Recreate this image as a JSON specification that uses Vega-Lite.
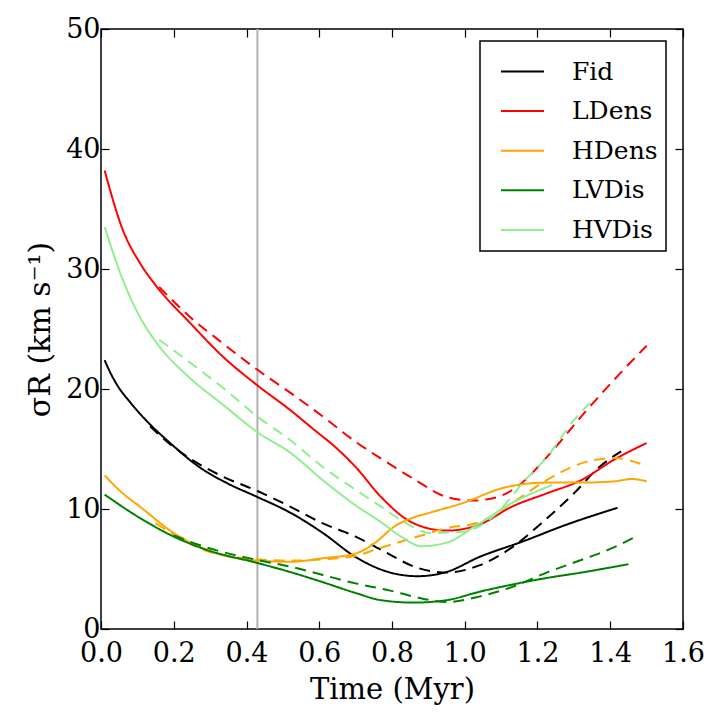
{
  "$schema": "https://vega.github.io/schema/vega-lite/v6.json",
  "width": 582,
  "height": 600,
  "autosize": {"type": "none"},
  "padding": {"left": 101, "top": 29, "right": 36, "bottom": 99},
  "background": "white",
  "config": {
    "view": {"stroke": "black", "strokeWidth": 1.5},
    "font": "DejaVu Serif",
    "axis": {
      "domain": false,
      "grid": false,
      "tickSize": -8,
      "tickColor": "black",
      "tickWidth": 1.2,
      "labelFlush": false,
      "labelOverlap": false,
      "labelFont": "DejaVu Serif",
      "labelFontSize": 27,
      "labelColor": "black",
      "titleFont": "DejaVu Serif",
      "titleFontSize": 29,
      "titleFontWeight": "normal",
      "titleColor": "black"
    },
    "legend": {
      "orient": "none",
      "legendX": 379,
      "legendY": 12,
      "strokeColor": "black",
      "strokeWidth": 1.5,
      "fillColor": "white",
      "padding": 8,
      "symbolType": "stroke",
      "symbolSize": 1849,
      "symbolStrokeWidth": 2,
      "symbolOffset": 12,
      "labelFont": "DejaVu Serif",
      "labelFontSize": 25,
      "labelColor": "black",
      "labelOffset": 27,
      "rowPadding": 3.6,
      "titleFontSize": 0
    }
  },
  "datasets": {
    "curves": [
      {"run": "Fid", "kind": "solid", "t": 0.01, "v": 22.4},
      {"run": "Fid", "kind": "solid", "t": 0.025, "v": 21.4},
      {"run": "Fid", "kind": "solid", "t": 0.045, "v": 20.3},
      {"run": "Fid", "kind": "solid", "t": 0.08, "v": 18.9},
      {"run": "Fid", "kind": "solid", "t": 0.13, "v": 17.2},
      {"run": "Fid", "kind": "solid", "t": 0.19, "v": 15.5},
      {"run": "Fid", "kind": "solid", "t": 0.27, "v": 13.5},
      {"run": "Fid", "kind": "solid", "t": 0.35, "v": 12.1},
      {"run": "Fid", "kind": "solid", "t": 0.43, "v": 11.0},
      {"run": "Fid", "kind": "solid", "t": 0.52, "v": 9.7},
      {"run": "Fid", "kind": "solid", "t": 0.61, "v": 8.0},
      {"run": "Fid", "kind": "solid", "t": 0.70, "v": 6.0},
      {"run": "Fid", "kind": "solid", "t": 0.79, "v": 4.75},
      {"run": "Fid", "kind": "solid", "t": 0.87, "v": 4.4},
      {"run": "Fid", "kind": "solid", "t": 0.95, "v": 4.75},
      {"run": "Fid", "kind": "solid", "t": 1.04, "v": 6.0},
      {"run": "Fid", "kind": "solid", "t": 1.16, "v": 7.3},
      {"run": "Fid", "kind": "solid", "t": 1.28, "v": 8.7},
      {"run": "Fid", "kind": "solid", "t": 1.42, "v": 10.1},

      {"run": "Fid", "kind": "dashed", "t": 0.135, "v": 16.9},
      {"run": "Fid", "kind": "dashed", "t": 0.19, "v": 15.4},
      {"run": "Fid", "kind": "dashed", "t": 0.25, "v": 14.1},
      {"run": "Fid", "kind": "dashed", "t": 0.335, "v": 12.7},
      {"run": "Fid", "kind": "dashed", "t": 0.43, "v": 11.5},
      {"run": "Fid", "kind": "dashed", "t": 0.52, "v": 10.2},
      {"run": "Fid", "kind": "dashed", "t": 0.61, "v": 8.8},
      {"run": "Fid", "kind": "dashed", "t": 0.70, "v": 7.7},
      {"run": "Fid", "kind": "dashed", "t": 0.77, "v": 6.6},
      {"run": "Fid", "kind": "dashed", "t": 0.87, "v": 5.1},
      {"run": "Fid", "kind": "dashed", "t": 0.95, "v": 4.7},
      {"run": "Fid", "kind": "dashed", "t": 1.04, "v": 5.3},
      {"run": "Fid", "kind": "dashed", "t": 1.13, "v": 6.8},
      {"run": "Fid", "kind": "dashed", "t": 1.21, "v": 8.8},
      {"run": "Fid", "kind": "dashed", "t": 1.30, "v": 11.3},
      {"run": "Fid", "kind": "dashed", "t": 1.37, "v": 13.5},
      {"run": "Fid", "kind": "dashed", "t": 1.43, "v": 14.8},

      {"run": "LDens", "kind": "solid", "t": 0.01, "v": 38.2},
      {"run": "LDens", "kind": "solid", "t": 0.06, "v": 33.25},
      {"run": "LDens", "kind": "solid", "t": 0.107, "v": 30.5},
      {"run": "LDens", "kind": "solid", "t": 0.154, "v": 28.5},
      {"run": "LDens", "kind": "solid", "t": 0.245, "v": 25.5},
      {"run": "LDens", "kind": "solid", "t": 0.335, "v": 22.7},
      {"run": "LDens", "kind": "solid", "t": 0.43, "v": 20.3},
      {"run": "LDens", "kind": "solid", "t": 0.52, "v": 18.25},
      {"run": "LDens", "kind": "solid", "t": 0.58, "v": 16.75},
      {"run": "LDens", "kind": "solid", "t": 0.65, "v": 15.0},
      {"run": "LDens", "kind": "solid", "t": 0.70, "v": 13.5},
      {"run": "LDens", "kind": "solid", "t": 0.77, "v": 11.0},
      {"run": "LDens", "kind": "solid", "t": 0.86, "v": 8.8},
      {"run": "LDens", "kind": "solid", "t": 0.95, "v": 8.2},
      {"run": "LDens", "kind": "solid", "t": 1.04, "v": 8.7},
      {"run": "LDens", "kind": "solid", "t": 1.13, "v": 10.2},
      {"run": "LDens", "kind": "solid", "t": 1.225, "v": 11.3},
      {"run": "LDens", "kind": "solid", "t": 1.32, "v": 12.4},
      {"run": "LDens", "kind": "solid", "t": 1.41, "v": 14.1},
      {"run": "LDens", "kind": "solid", "t": 1.50, "v": 15.5},

      {"run": "LDens", "kind": "dashed", "t": 0.16, "v": 28.5},
      {"run": "LDens", "kind": "dashed", "t": 0.245, "v": 26.0},
      {"run": "LDens", "kind": "dashed", "t": 0.335, "v": 23.8},
      {"run": "LDens", "kind": "dashed", "t": 0.43, "v": 21.6},
      {"run": "LDens", "kind": "dashed", "t": 0.52, "v": 19.7},
      {"run": "LDens", "kind": "dashed", "t": 0.61, "v": 17.7},
      {"run": "LDens", "kind": "dashed", "t": 0.70, "v": 15.6},
      {"run": "LDens", "kind": "dashed", "t": 0.77, "v": 14.2},
      {"run": "LDens", "kind": "dashed", "t": 0.86, "v": 12.5},
      {"run": "LDens", "kind": "dashed", "t": 0.95, "v": 11.0},
      {"run": "LDens", "kind": "dashed", "t": 1.02, "v": 10.7},
      {"run": "LDens", "kind": "dashed", "t": 1.09, "v": 11.0},
      {"run": "LDens", "kind": "dashed", "t": 1.15, "v": 12.0},
      {"run": "LDens", "kind": "dashed", "t": 1.225, "v": 14.3},
      {"run": "LDens", "kind": "dashed", "t": 1.32, "v": 17.7},
      {"run": "LDens", "kind": "dashed", "t": 1.41, "v": 20.75},
      {"run": "LDens", "kind": "dashed", "t": 1.50, "v": 23.6},

      {"run": "HDens", "kind": "solid", "t": 0.01, "v": 12.8},
      {"run": "HDens", "kind": "solid", "t": 0.06, "v": 11.3},
      {"run": "HDens", "kind": "solid", "t": 0.107, "v": 10.2},
      {"run": "HDens", "kind": "solid", "t": 0.2, "v": 8.0},
      {"run": "HDens", "kind": "solid", "t": 0.29, "v": 6.6},
      {"run": "HDens", "kind": "solid", "t": 0.43, "v": 5.7},
      {"run": "HDens", "kind": "solid", "t": 0.52, "v": 5.6},
      {"run": "HDens", "kind": "solid", "t": 0.61, "v": 5.9},
      {"run": "HDens", "kind": "solid", "t": 0.70, "v": 6.3},
      {"run": "HDens", "kind": "solid", "t": 0.74, "v": 6.9},
      {"run": "HDens", "kind": "solid", "t": 0.77, "v": 7.6},
      {"run": "HDens", "kind": "solid", "t": 0.80, "v": 8.4},
      {"run": "HDens", "kind": "solid", "t": 0.86, "v": 9.3},
      {"run": "HDens", "kind": "solid", "t": 0.905, "v": 9.7},
      {"run": "HDens", "kind": "solid", "t": 0.995, "v": 10.5},
      {"run": "HDens", "kind": "solid", "t": 1.105, "v": 11.75},
      {"run": "HDens", "kind": "solid", "t": 1.225, "v": 12.2},
      {"run": "HDens", "kind": "solid", "t": 1.32, "v": 12.2},
      {"run": "HDens", "kind": "solid", "t": 1.41, "v": 12.3},
      {"run": "HDens", "kind": "solid", "t": 1.46, "v": 12.5},
      {"run": "HDens", "kind": "solid", "t": 1.50, "v": 12.3},

      {"run": "HDens", "kind": "dashed", "t": 0.15, "v": 8.8},
      {"run": "HDens", "kind": "dashed", "t": 0.2, "v": 7.9},
      {"run": "HDens", "kind": "dashed", "t": 0.29, "v": 6.5},
      {"run": "HDens", "kind": "dashed", "t": 0.43, "v": 5.8},
      {"run": "HDens", "kind": "dashed", "t": 0.52, "v": 5.7},
      {"run": "HDens", "kind": "dashed", "t": 0.61, "v": 5.8},
      {"run": "HDens", "kind": "dashed", "t": 0.70, "v": 6.1},
      {"run": "HDens", "kind": "dashed", "t": 0.767, "v": 6.75},
      {"run": "HDens", "kind": "dashed", "t": 0.86, "v": 7.6},
      {"run": "HDens", "kind": "dashed", "t": 0.95, "v": 8.4},
      {"run": "HDens", "kind": "dashed", "t": 1.04, "v": 8.9},
      {"run": "HDens", "kind": "dashed", "t": 1.13, "v": 10.5},
      {"run": "HDens", "kind": "dashed", "t": 1.225, "v": 12.4},
      {"run": "HDens", "kind": "dashed", "t": 1.32, "v": 13.8},
      {"run": "HDens", "kind": "dashed", "t": 1.41, "v": 14.25},
      {"run": "HDens", "kind": "dashed", "t": 1.49, "v": 13.7},

      {"run": "LVDis", "kind": "solid", "t": 0.01, "v": 11.2},
      {"run": "LVDis", "kind": "solid", "t": 0.107, "v": 9.25},
      {"run": "LVDis", "kind": "solid", "t": 0.2, "v": 7.7},
      {"run": "LVDis", "kind": "solid", "t": 0.29, "v": 6.6},
      {"run": "LVDis", "kind": "solid", "t": 0.43, "v": 5.5},
      {"run": "LVDis", "kind": "solid", "t": 0.52, "v": 4.75},
      {"run": "LVDis", "kind": "solid", "t": 0.61, "v": 3.9},
      {"run": "LVDis", "kind": "solid", "t": 0.70, "v": 3.0},
      {"run": "LVDis", "kind": "solid", "t": 0.77, "v": 2.4},
      {"run": "LVDis", "kind": "solid", "t": 0.86, "v": 2.2},
      {"run": "LVDis", "kind": "solid", "t": 0.95, "v": 2.4},
      {"run": "LVDis", "kind": "solid", "t": 1.04, "v": 3.1},
      {"run": "LVDis", "kind": "solid", "t": 1.13, "v": 3.7},
      {"run": "LVDis", "kind": "solid", "t": 1.225, "v": 4.25},
      {"run": "LVDis", "kind": "solid", "t": 1.32, "v": 4.7},
      {"run": "LVDis", "kind": "solid", "t": 1.45, "v": 5.4},

      {"run": "LVDis", "kind": "dashed", "t": 0.2, "v": 7.8},
      {"run": "LVDis", "kind": "dashed", "t": 0.29, "v": 6.8},
      {"run": "LVDis", "kind": "dashed", "t": 0.43, "v": 5.75},
      {"run": "LVDis", "kind": "dashed", "t": 0.52, "v": 5.2},
      {"run": "LVDis", "kind": "dashed", "t": 0.61, "v": 4.5},
      {"run": "LVDis", "kind": "dashed", "t": 0.70, "v": 3.8},
      {"run": "LVDis", "kind": "dashed", "t": 0.795, "v": 3.2},
      {"run": "LVDis", "kind": "dashed", "t": 0.86, "v": 2.7},
      {"run": "LVDis", "kind": "dashed", "t": 0.95, "v": 2.25},
      {"run": "LVDis", "kind": "dashed", "t": 1.04, "v": 2.7},
      {"run": "LVDis", "kind": "dashed", "t": 1.13, "v": 3.5},
      {"run": "LVDis", "kind": "dashed", "t": 1.225, "v": 4.7},
      {"run": "LVDis", "kind": "dashed", "t": 1.32, "v": 5.75},
      {"run": "LVDis", "kind": "dashed", "t": 1.41, "v": 6.8},
      {"run": "LVDis", "kind": "dashed", "t": 1.47, "v": 7.7},

      {"run": "HVDis", "kind": "solid", "t": 0.01, "v": 33.5},
      {"run": "HVDis", "kind": "solid", "t": 0.06, "v": 29.1},
      {"run": "HVDis", "kind": "solid", "t": 0.107, "v": 26.0},
      {"run": "HVDis", "kind": "solid", "t": 0.154, "v": 23.8},
      {"run": "HVDis", "kind": "solid", "t": 0.245, "v": 20.9},
      {"run": "HVDis", "kind": "solid", "t": 0.335, "v": 18.7},
      {"run": "HVDis", "kind": "solid", "t": 0.43, "v": 16.4},
      {"run": "HVDis", "kind": "solid", "t": 0.52, "v": 14.7},
      {"run": "HVDis", "kind": "solid", "t": 0.61, "v": 12.4},
      {"run": "HVDis", "kind": "solid", "t": 0.70, "v": 10.3},
      {"run": "HVDis", "kind": "solid", "t": 0.77, "v": 8.9},
      {"run": "HVDis", "kind": "solid", "t": 0.83, "v": 7.6},
      {"run": "HVDis", "kind": "solid", "t": 0.88, "v": 6.9},
      {"run": "HVDis", "kind": "solid", "t": 0.95, "v": 7.2},
      {"run": "HVDis", "kind": "solid", "t": 1.04, "v": 8.8},
      {"run": "HVDis", "kind": "solid", "t": 1.13, "v": 10.5},
      {"run": "HVDis", "kind": "solid", "t": 1.24, "v": 12.0},

      {"run": "HVDis", "kind": "dashed", "t": 0.16, "v": 24.1},
      {"run": "HVDis", "kind": "dashed", "t": 0.245, "v": 22.2},
      {"run": "HVDis", "kind": "dashed", "t": 0.335, "v": 20.1},
      {"run": "HVDis", "kind": "dashed", "t": 0.43, "v": 17.7},
      {"run": "HVDis", "kind": "dashed", "t": 0.52, "v": 15.75},
      {"run": "HVDis", "kind": "dashed", "t": 0.61, "v": 13.5},
      {"run": "HVDis", "kind": "dashed", "t": 0.70, "v": 11.6},
      {"run": "HVDis", "kind": "dashed", "t": 0.77, "v": 10.2},
      {"run": "HVDis", "kind": "dashed", "t": 0.84, "v": 8.8},
      {"run": "HVDis", "kind": "dashed", "t": 0.905, "v": 8.0},
      {"run": "HVDis", "kind": "dashed", "t": 0.995, "v": 8.1},
      {"run": "HVDis", "kind": "dashed", "t": 1.09, "v": 9.7},
      {"run": "HVDis", "kind": "dashed", "t": 1.16, "v": 12.2},
      {"run": "HVDis", "kind": "dashed", "t": 1.225, "v": 14.3},
      {"run": "HVDis", "kind": "dashed", "t": 1.30, "v": 17.4},
      {"run": "HVDis", "kind": "dashed", "t": 1.36, "v": 19.3}
    ],
    "marker": [{"t": 0.43}]
  },
  "resolve": {"axis": {"x": "independent", "y": "independent"}},
  "layer": [
    {
      "data": {"name": "marker"},
      "mark": {"type": "rule", "color": "#b0b0b0", "strokeWidth": 2},
      "encoding": {
        "x": {"field": "t", "type": "quantitative", "scale": {"domain": [0, 1.6], "nice": false}, "axis": null}
      }
    },
    {
      "data": {"name": "curves"},
      "mark": {"type": "line", "strokeWidth": 2, "interpolate": "monotone", "clip": true},
      "encoding": {
        "x": {
          "field": "t", "type": "quantitative",
          "scale": {"domain": [0, 1.6], "nice": false},
          "axis": {"values": [0, 0.2, 0.4, 0.6, 0.8, 1.0, 1.2, 1.4, 1.6], "format": ".1f", "labelPadding": 19, "title": "Time (Myr)", "titlePadding": 9}
        },
        "y": {
          "field": "v", "type": "quantitative",
          "scale": {"domain": [0, 50], "nice": false},
          "axis": {"values": [0, 10, 20, 30, 40, 50], "labelPadding": 9, "title": "σR (km s⁻¹)", "titleFontSize": 30, "titlePadding": 10}
        },
        "color": {
          "field": "run", "type": "nominal",
          "scale": {"domain": ["Fid", "LDens", "HDens", "LVDis", "HVDis"], "range": ["black", "red", "orange", "green", "lightgreen"]},
          "legend": {"title": null, "labelExpr": "datum.label + '\u00a0\u00a0'"}
        },
        "strokeDash": {
          "field": "kind", "type": "nominal",
          "scale": {"domain": ["solid", "dashed"], "range": [[1, 0], [11, 7]]},
          "legend": null
        },
        "order": {"field": "t", "type": "quantitative"}
      }
    },
    {
      "data": {"name": "curves"},
      "mark": {"type": "point", "opacity": 0},
      "encoding": {
        "x": {
          "field": "t", "type": "quantitative",
          "scale": {"domain": [0, 1.6], "nice": false},
          "axis": {"orient": "top", "values": [0, 0.2, 0.4, 0.6, 0.8, 1.0, 1.2, 1.4, 1.6], "labels": false, "title": null}
        },
        "y": {
          "field": "v", "type": "quantitative",
          "scale": {"domain": [0, 50], "nice": false},
          "axis": {"orient": "right", "values": [0, 10, 20, 30, 40, 50], "labels": false, "title": null}
        }
      }
    }
  ]
}
